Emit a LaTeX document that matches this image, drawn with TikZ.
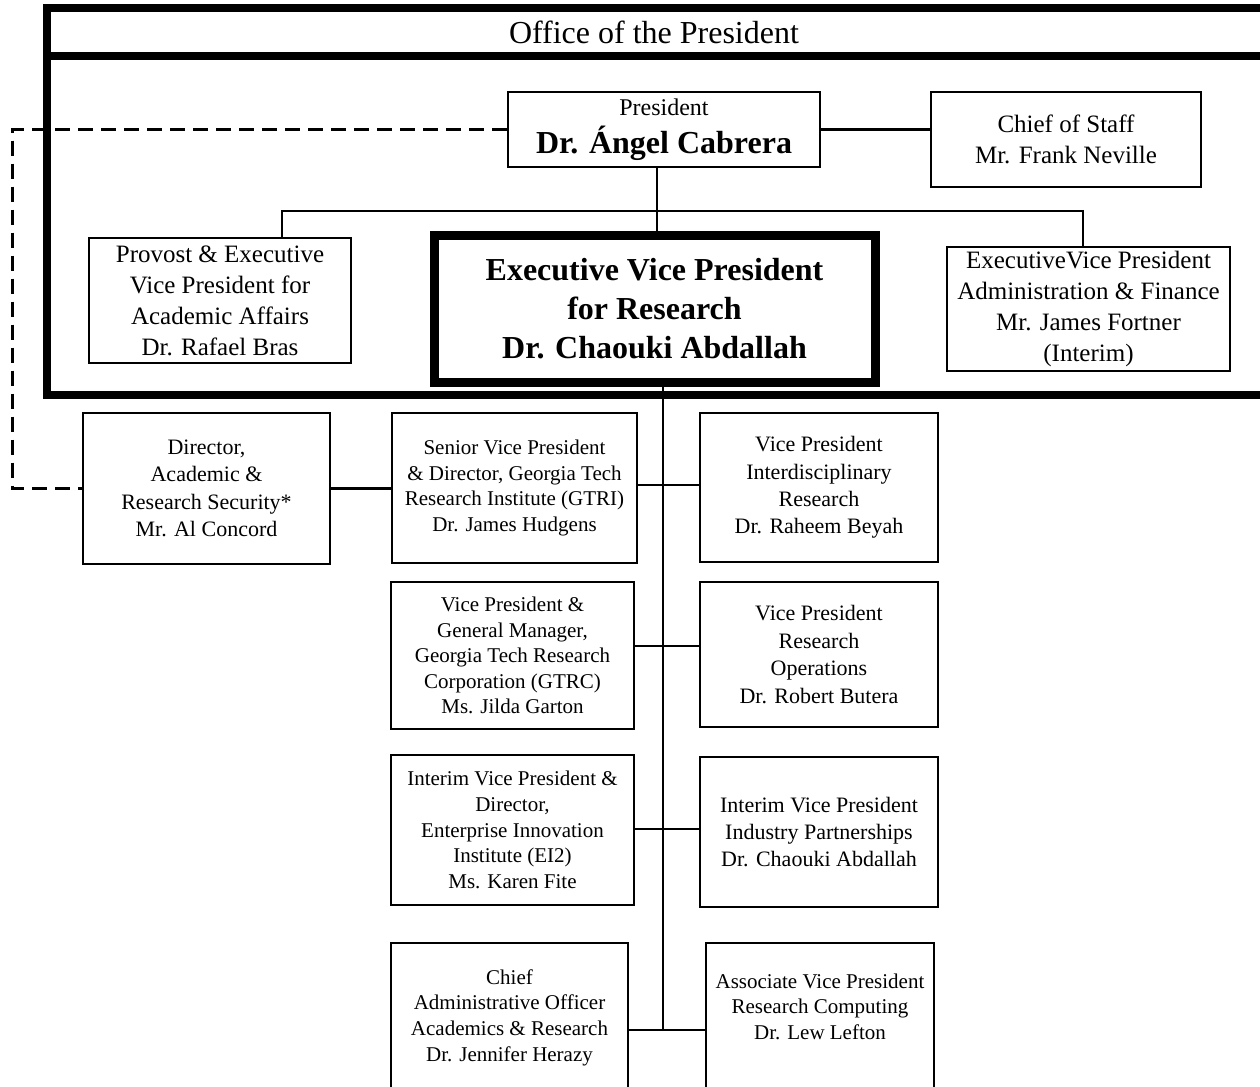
\documentclass[tikz,border=0pt]{standalone}
\usepackage{fontspec}
\setmainfont{Liberation Serif}

\begin{document}
\begin{tikzpicture}[x=0.5pt, y=-0.5pt,
	unitbox/.style={draw, line width=1.2pt, align=center, inner sep=0pt, font=\fontsize{10.5}{12.8}\selectfont},
	widebox/.style={unitbox, font=\fontsize{11}{13.7}\selectfont},
	topbox/.style={unitbox, font=\fontsize{12.5}{15.5}\selectfont},
	link/.style={line width=1.2pt},
	dashline/.style={line width=1.5pt, dash pattern=on 7.5pt off 4pt},
	frame/.style={line width=4pt}]
	\useasboundingbox (0,0) rectangle (1260,1087);
	% office of the president
	\draw[frame] (1275,7.5) -- (47,7.5) -- (47,395) -- (1275,395);
	\draw[frame] (47,56) -- (1275,56);
	\node[font=\fontsize{16}{19}\selectfont] (office) at (654,32) {Office of the President};

	\node[unitbox, minimum width=156pt, minimum height=37.5pt] (pres) at (664,129.5)
		{\fontsize{12}{14}\selectfont President\\[4pt] \fontsize{16}{19}\selectfont\bfseries Dr. Ángel Cabrera};
	\node[topbox, minimum width=135pt, minimum height=47.5pt] (cos) at (1066,139.5) {Chief of Staff\\Mr. Frank Neville};
	\node[topbox, minimum width=131pt, minimum height=62.5pt] (provost) at (220,300.5)
		{Provost \& Executive\\Vice President for\\Academic Affairs\\Dr. Rafael Bras};
	\node[unitbox, line width=4.5pt, minimum width=220.5pt, minimum height=73.5pt, font=\fontsize{16}{19.5}\selectfont\bfseries] (evpr) at (654.5,308.5)
		{Executive Vice President\\for Research\\Dr. Chaouki Abdallah};
	\node[topbox, minimum width=141.5pt, minimum height=62pt] (evpaf) at (1088.5,309)
		{ExecutiveVice President\\Administration \& Finance\\Mr. James Fortner\\(Interim)};

	% research units
	\node[widebox, minimum width=123.5pt, minimum height=75.5pt] (dir) at (206.5,488.5)
		{Director,\\Academic \&\\Research Security*\\Mr. Al Concord};
	\node[unitbox, minimum width=122.5pt, minimum height=75pt] (gtri) at (514.5,488)
		{Senior Vice President\\\& Director, Georgia Tech\\Research Institute (GTRI)\\Dr. James Hudgens};
	\node[widebox, minimum width=119pt, minimum height=74.5pt] (vpir) at (819,487.5)
		{Vice President\\Interdisciplinary\\Research\\Dr. Raheem Beyah};
	\node[unitbox, minimum width=121.5pt, minimum height=73.5pt] (gtrc) at (512.5,655.5)
		{Vice President \&\\General Manager,\\Georgia Tech Research\\Corporation (GTRC)\\Ms. Jilda Garton};
	\node[widebox, minimum width=119pt, minimum height=72.5pt] (rops) at (819,654.5)
		{Vice President\\Research\\Operations\\Dr. Robert Butera};
	\node[unitbox, minimum width=121.5pt, minimum height=75pt] (ei2) at (512.5,830)
		{Interim Vice President \&\\Director,\\Enterprise Innovation\\Institute (EI2)\\Ms. Karen Fite};
	\node[widebox, minimum width=119pt, minimum height=75pt] (ind) at (819,832)
		{Interim Vice President\\Industry Partnerships\\Dr. Chaouki Abdallah};
	\node[unitbox, minimum width=118.5pt, minimum height=74.5pt] (cao) at (509.5,1017.5)
		{Chief\\Administrative Officer\\Academics \& Research\\Dr. Jennifer Herazy};
	\node[unitbox, minimum width=114pt, minimum height=74.5pt] (avp) at (820,1017.5)
		{Associate Vice President\\Research Computing\\Dr. Lew Lefton\\[-1.8pt]};

	% reporting lines
	\coordinate (br) at (657,211);
	\coordinate (bl) at (282,211);
	\coordinate (brr) at (1083,211);
	\coordinate (j1) at (663,485);
	\coordinate (j2) at (663,646);
	\coordinate (j3) at (663,829);
	\coordinate (j4) at (663,1030);
	\coordinate (dl) at (12,0);
	\draw[link] (pres.east) -- (pres.east -| cos.west);
	\draw[link] (pres.south -| br) -- (evpr.north -| br);
	\draw[link] (provost.north -| bl) -- (bl) -- (brr) -- (evpaf.north -| brr);
	\draw[link] (evpr.south -| j1) -- (j4);
	\foreach \l/\r/\j in {gtri/vpir/j1, gtrc/rops/j2, ei2/ind/j3, cao/avp/j4}
		{\draw[link] (\j -| \l.east) -- (\j -| \r.west);}
	\draw[link] (dir.east) -- (dir.east -| gtri.west);
	\draw[dashline] (pres.west) -- (pres.west -| dl) -- (dir.west -| dl) -- (dir.west);
\end{tikzpicture}
\end{document}
